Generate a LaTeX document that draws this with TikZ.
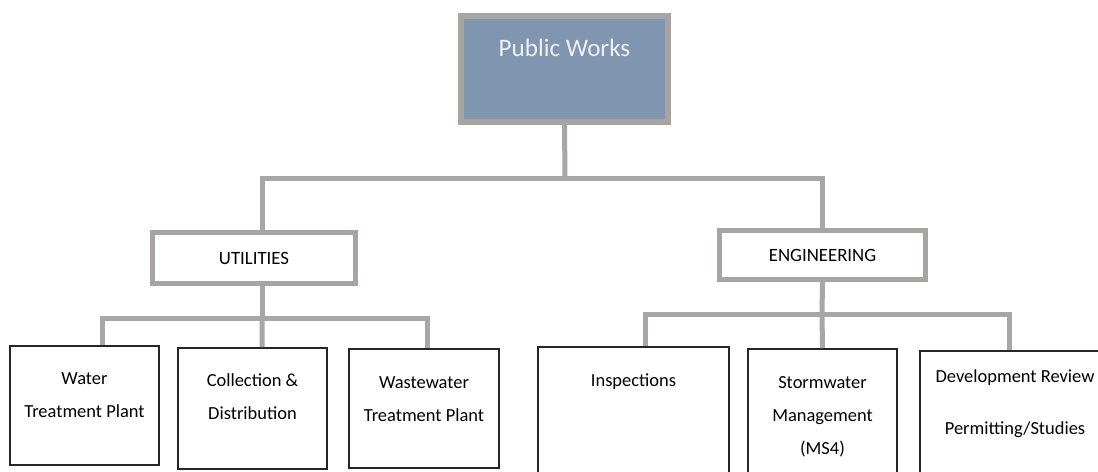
\documentclass[tikz,border=0pt]{standalone}
\usepackage{fontspec}
\setmainfont{Carlito}
\definecolor{boxgray}{RGB}{168,164,164}
\definecolor{linegray}{RGB}{168,166,166}
\definecolor{pwblue}{RGB}{128,150,176}

\begin{document}
\begin{tikzpicture}[x=0.02cm, y=-0.02cm,
        head/.style={draw=boxgray, line width=0.12cm, fill=pwblue, text=white!94!black, inner sep=0pt, anchor=north, font=\fontsize{14.3}{17}\selectfont},
        dept/.style={draw=boxgray, line width=0.1cm, fill=white, inner sep=0pt, font=\fontsize{10.7}{13}\selectfont},
        unit/.style={draw=black!85, line width=0.04cm, fill=white, inner sep=0pt, anchor=north, align=center, font=\fontsize{10.5}{18.8}\selectfont},
        link/.style={draw=linegray, line width=0.1cm}]
        \useasboundingbox (0,0) rectangle (1098,471);
        \clip (0,0) rectangle (1098,471);

        % Nodes
        \node[head, minimum width=4.14cm, text height=0.82cm, text depth=1.3cm] (pw) at (564.5,13) {Public Works};

        \node[dept, minimum width=4.06cm, minimum height=1.02cm] (util) at (254,258) {UTILITIES};
        \node[dept, minimum width=4.12cm, minimum height=0.98cm] (eng) at (822.5,255) {ENGINEERING};

        % text height runs to the last baseline
        \node[unit, minimum width=2.98cm, text height=1.44cm, text depth=0.94cm] (wtp) at (84.5,345) {Water\\Treatment Plant};
        \node[unit, minimum width=2.98cm, text height=1.44cm, text depth=0.98cm] (cnd) at (252.5,347) {Collection \&\\Distribution};
        \node[unit, minimum width=3cm, text height=1.46cm, text depth=0.92cm] (wwtp) at (424,348) {Wastewater\\Treatment Plant};

        \node[unit, minimum width=3.82cm, text height=0.78cm, text depth=4cm] (insp) at (633.5,346) {Inspections};
        \node[unit, minimum width=2.98cm, text height=2.12cm, text depth=3cm] (swm) at (822.5,348) {Stormwater\\Management\\(MS4)};
        \node[unit, minimum width=3.8cm, text height=1.68cm, text depth=3cm] (dev) at (1015,350) {Development Review\\[10.8pt]Permitting/Studies};

        % Bus points
        \coordinate (pwbus) at (565,178);
        \coordinate (ubus) at (262,318);
        \coordinate (ebus) at (822,314);

        % Edges
        \draw[link] (pw.south) -- (pwbus);
        \draw[link] ([shift={(8,0)}]util.north) |- (pwbus) -| (eng.north);

        \draw[link] ([shift={(8,0)}]util.south) -- (ubus);
        \draw[link] ([shift={(17.5,0)}]wtp.north) |- (ubus) -| ([shift={(3,0)}]wwtp.north);
        \draw[link] (ubus) -- ([shift={(9.5,0)}]cnd.north);

        \draw[link] (eng.south) -- (ebus);
        \draw[link] ([shift={(11.5,0)}]insp.north) |- (ebus) -| ([shift={(-6,0)}]dev.north);
        \draw[link] (ebus) -- (swm.north);
    \end{tikzpicture}
\end{document}
